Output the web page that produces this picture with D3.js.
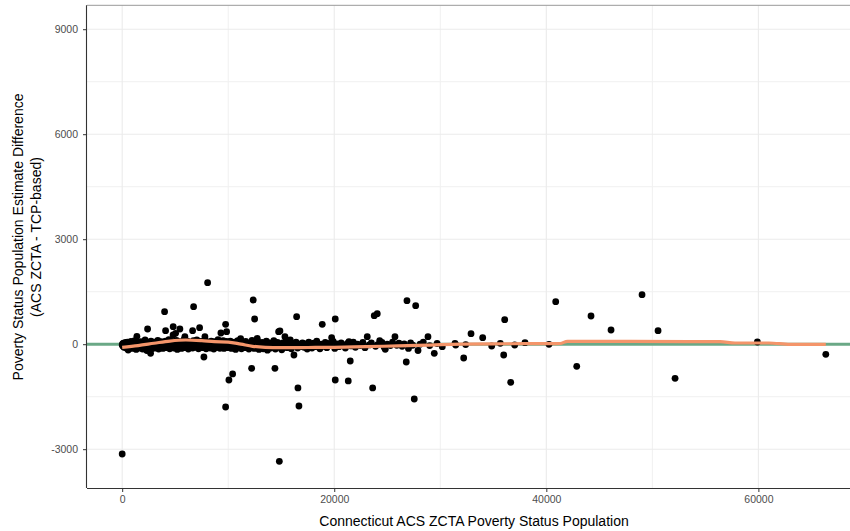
<!DOCTYPE html>
<html>
<head>
<meta charset="utf-8">
<script src="https://cdn.jsdelivr.net/npm/d3@7"></script>
<style>
  html, body { margin: 0; padding: 0; background: #fff; }
  svg { display: block; font-family: "Liberation Sans", Arial, sans-serif; }
</style>
</head>
<body>
<svg id="chart" width="850" height="531"></svg>
<script>
// [ACS population, estimate difference]
const smallZctas = [
  [0,-20],[40,10],[80,-60],[120,30],[170,-90],[220,0],[270,-40],[320,50],[380,-110],[430,-10],
  [490,60],[550,-70],[566,-166],[620,-130],[690,20],[760,-50],[830,80],[900,-30],[970,-120],[1040,40],
  [1110,-80],[1180,100],[1250,-20],[1320,-150],[1387,226],[1450,60],[1520,-60],[1600,10],[1680,-110],[1760,70],
  [1840,-30],[1920,-140],[2000,40],[2080,-70],[2160,120],[2240,-20],[2320,-180],[2396,434],[2400,60],[2480,-100],
  [2560,20],[2640,-60],[2679,-260],[2720,90],[2800,-130],[2880,0],[2960,-80]
];

const midZctas = [
  [3040,60],[3120,-110],[3200,20],[3280,-60],[3360,110],[3440,-140],[3520,0],[3600,-80],[3680,70],[3760,-30],
  [3840,-120],[3920,40],[4000,929],[4000,-60],[4094,386],[4080,90],[4160,-100],[4240,10],[4320,-50],[4400,130],
  [4480,-130],[4560,30],[4640,-70],[4720,80],[4811,500],[4800,-20],[4802,263],[4880,-110],[4960,50],[5038,311],
  [5040,-40],[5120,110],[5200,-150],[5280,0],[5360,-80],[5443,434],[5440,70],[5520,-20],[5600,-120],[5680,40],
  [5760,-60],[5840,140],[5915,214],[5920,-100],[6000,20],[6080,-50],[6160,90],[6240,-140],[6320,10],[6400,-70],
  [6480,60],[6560,-30],[6641,386],[6640,-110],[6736,1071],[6720,100],[6800,-40],[6880,30],[6960,-90],[7040,120],
  [7120,-20],[7200,-130],[7280,50],[7302,471],[7360,-60],[7440,80],[7520,-10],[7600,-100],[7680,40],[7708,-366],
  [7760,-50],[7802,214],[7840,110],[7920,-130],[8000,20],[8057,1757],[8080,-70],[8160,60],[8240,-20],[8320,-110],
  [8400,90],[8480,-40],[8560,10],[8640,-140],[8720,70],[8800,-60],[8880,30],[8960,-90],[9040,130],[9120,-30],
  [9217,-117],[9200,60],[9280,-80],[9311,320],[9360,20],[9440,-50],[9520,100],[9600,-120],[9680,40],[9755,569],
  [9755,-1794],[9760,-40],[9849,357],[9840,80],[9920,-100]
];

const largeZctas = [
  [10000,20],[10066,-1023],[10100,-60],[10200,90],[10300,-120],[10400,0],[10415,-851],[10500,-40],[10600,60],[10700,-150],
  [10800,-10],[10900,100],[11000,-80],[11100,30],[11170,157],[11250,-130],[11350,50],[11450,-20],[11550,-100],[11650,80],
  [11750,-50],[11850,10],[11950,-140],[12050,40],[12150,-70],[12208,-689],[12250,110],[12350,-30],[12358,1263],[12450,-120],
  [12490,720],[12550,20],[12650,-60],[12736,169],[12800,70],[12900,-150],[13000,-10],[13100,-90],[13200,50],[13300,-130],
  [13400,0],[13500,-60],[13600,90],[13700,-170],[13800,-20],[13900,40],[14000,-110],[14100,10],[14200,-60],[14300,100],
  [14406,-689],[14450,-140],[14550,-30],[14650,50],[14755,357],[14800,-90],[14821,-3346],[14877,377],[14950,0],[15050,-160],
  [15150,40],[15250,-50],[15349,214],[15450,80],[15550,-100],[15650,10],[15750,-60],[15850,120],[15950,-130],[16050,30],
  [16198,-309],[16300,-50],[16400,60],[16453,786],[16550,-110],[16575,-1251],[16670,-1766],[16700,0],[16850,-70]
];

const urbanZctas = [
  [17000,40],[17150,-90],[17300,10],[17450,-140],[17600,60],[17750,-40],[17900,-110],[18050,30],[18200,-70],[18350,90],
  [18500,-20],[18650,-130],[18800,0],[18868,569],[19000,-60],[19150,50],[19300,-100],[19500,20],[19650,-40],[19755,186],
  [19900,80],[20050,-120],[20094,720],[20094,-1023],[20250,10],[20450,-70],[20650,40],[20850,-20],[21050,-110],[21250,20],
  [21321,-1051],[21387,71],[21509,-480],[21600,-50],[21800,60],[22000,-90],[22200,0],[22450,-40],[22700,50],[22900,-100],
  [23113,214],[23300,-20],[23500,40],[23623,-1251],[23774,814],[23900,-60],[24057,871],[24100,-10],[24283,100],[24500,50],
  [24700,-80],[24811,-146],[25000,0],[25300,-40],[25500,60],[25726,214],[25900,-30],[26100,30],[26400,-60],[26600,10],
  [26792,-509],[26858,1243],[27000,-120],[27200,40],[27400,-30],[27547,-1566],[27679,1100],[27900,-180],[28100,0],[28400,60],
  [28840,214],[29000,-40],[29434,-260],[29700,20],
  [30189,-71],[31387,26],[31453,-23],[32208,-394],[32396,-10],[32900,300],[34000,186],[34849,-51],[35660,26],[35981,-309],
  [36075,700],[36642,-1089],[37019,-23],[37991,43],[40255,-3],[40887,1214],[42868,-631],[44217,806],[46104,406],[49028,1414],
  [50538,386],[52142,-974],[59906,63],[66358,-289],
  [0,-3137]
];

// smoothed trend
const smoothX = [0, 1500, 3000, 4500, 6000, 7500, 8700, 10000, 11200, 12300, 13500, 15000, 17500, 20000, 23000,
  26000, 29000, 32000, 35000, 38000, 40500, 41300, 42000, 48000, 56400, 57800, 61000, 63000, 66358];
const smoothY = [-89, -40, 26, 90, 120, 100, 71, 60, 0, -60, -90, -100, -95, -89, -70,
  -50, -25, 0, 10, 15, 15, 20, 83, 80, 71, 34, 34, -5, -5];

const xTicks = [0, 20000, 40000, 60000];
const xMinor = [10000, 30000, 50000];
const yTicks = [-3000, 0, 3000, 6000, 9000];
const yMinor = [-1500, 1500, 4500, 7500];

const svg = d3.select('#chart');
const pL = 87, pR = 861, pT = 5.3, pB = 488;

const x = d3.scaleLinear().domain([-3318, 69678]).range([pL, pR]);
const y = d3.scaleLinear().domain([-4109, 9683]).range([pB, pT]);

svg.append('defs').append('clipPath').attr('id', 'panel')
  .append('rect').attr('x', pL).attr('y', pT).attr('width', pR - pL).attr('height', pB - pT);

const grid = svg.append('g');
grid.selectAll('.vmin').data(xMinor).join('line')
  .attr('x1', d => x(d)).attr('x2', d => x(d)).attr('y1', pT).attr('y2', pB)
  .attr('stroke', '#f0f0f0').attr('stroke-width', 1);
grid.selectAll('.hmin').data(yMinor).join('line')
  .attr('x1', pL).attr('x2', pR).attr('y1', d => y(d)).attr('y2', d => y(d))
  .attr('stroke', '#f0f0f0').attr('stroke-width', 1);
grid.selectAll('.vmaj').data(xTicks).join('line')
  .attr('x1', d => x(d)).attr('x2', d => x(d)).attr('y1', pT).attr('y2', pB)
  .attr('stroke', '#ebebeb').attr('stroke-width', 1.1);
grid.selectAll('.hmaj').data(yTicks).join('line')
  .attr('x1', pL).attr('x2', pR).attr('y1', d => y(d)).attr('y2', d => y(d))
  .attr('stroke', '#ebebeb').attr('stroke-width', 1.1);

const plot = svg.append('g').attr('clip-path', 'url(#panel)');

// reference line at zero
plot.append('line')
  .attr('x1', pL).attr('x2', pR).attr('y1', y(0)).attr('y2', y(0))
  .attr('stroke', '#6aa886').attr('stroke-width', 3);

const points = smallZctas.concat(midZctas, largeZctas, urbanZctas);
plot.selectAll('circle').data(points).join('circle')
  .attr('cx', d => x(d[0]))
  .attr('cy', d => y(d[1]))
  .attr('r', 3.4)
  .attr('fill', '#000');

const smooth = smoothX.map((v, i) => [v, smoothY[i]]);
plot.append('path').datum(smooth)
  .attr('fill', 'none')
  .attr('stroke', '#f4956a')
  .attr('stroke-width', 3.2)
  .attr('d', d3.line().x(d => x(d[0])).y(d => y(d[1])).curve(d3.curveMonotoneX));

// panel border and axes
svg.append('line').attr('x1', pL).attr('x2', pR).attr('y1', pT).attr('y2', pT)
  .attr('stroke', '#999').attr('stroke-width', 1);

const xAxis = svg.append('g').attr('transform', `translate(0,${pB})`)
  .call(d3.axisBottom(x).tickValues(xTicks).tickSize(4).tickPadding(4).tickFormat(d => `${d}`));
const yAxis = svg.append('g').attr('transform', `translate(${pL},0)`)
  .call(d3.axisLeft(y).tickValues(yTicks).tickSize(4).tickPadding(5).tickFormat(d => `${d}`));

[xAxis, yAxis].forEach(a => {
  a.select('.domain').attr('stroke', '#333').attr('stroke-width', 1.1);
  a.selectAll('.tick line').attr('stroke', '#333');
  a.selectAll('.tick text').attr('fill', '#4d4d4d').attr('font-size', 10.5)
    .attr('font-family', '"Liberation Sans", Arial, sans-serif');
});
xAxis.select('.domain').attr('d', `M${pL},0.5H${pR}`);
yAxis.select('.domain').attr('d', `M-0.5,${pT}V${pB}`);

svg.append('text')
  .attr('x', (pL + pR) / 2).attr('y', 526)
  .attr('text-anchor', 'middle').attr('font-size', 14).attr('fill', '#000')
  .text('Connecticut ACS ZCTA Poverty Status Population');

const yTitle = svg.append('text')
  .attr('transform', 'translate(23,237) rotate(-90)')
  .attr('text-anchor', 'middle').attr('font-size', 14).attr('fill', '#000');
yTitle.append('tspan').attr('x', 0).attr('dy', 0).text('Poverty Status Population Estimate Difference');
yTitle.append('tspan').attr('x', 0).attr('dy', 18).text('(ACS ZCTA - TCP-based)');
</script>
</body>
</html>
